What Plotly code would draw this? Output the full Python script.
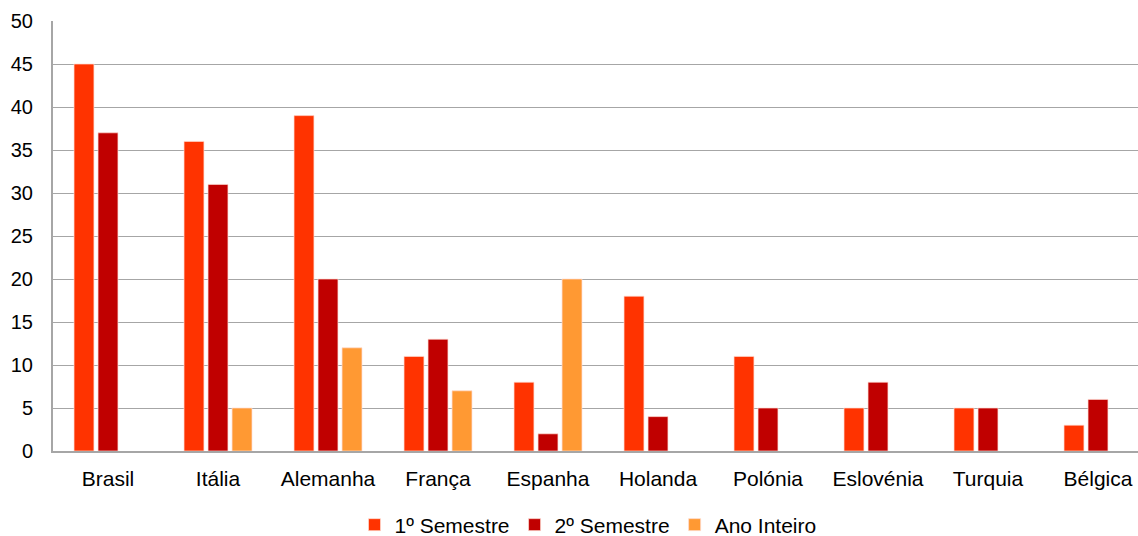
import plotly.graph_objects as go

# Countries and counts per semester
paises = ["Brasil", "Itália", "Alemanha", "França", "Espanha",
          "Holanda", "Polónia", "Eslovénia", "Turquia", "Bélgica"]
semestre_1 = [45, 36, 39, 11, 8, 18, 11, 5, 5, 3]
semestre_2 = [37, 31, 20, 13, 2, 4, 5, 8, 5, 6]
ano_inteiro = [None, 5, 12, 7, 20, None, None, None, None, None]
y_ticks = [0, 5, 10, 15, 20, 25, 30, 35, 40, 45, 50]

series = [
    ("1º Semestre", semestre_1, "#FF3300"),
    ("2º Semestre", semestre_2, "#C00000"),
    ("Ano Inteiro", ano_inteiro, "#FF9933"),
]

fig = go.Figure()
for nome, valores, cor in series:
    fig.add_trace(go.Bar(
        x=list(range(len(paises))), y=valores, name=nome,
        marker=dict(color=cor, line=dict(color="rgba(255,220,210,0.7)", width=1)),
    ))

font_family = "Liberation Sans, Arial, sans-serif"
plot_left, plot_w = 53, 1138 - 53
cat_px = 110  # width of one category slot in pixels

fig.update_layout(
    width=1138, height=536,
    margin=dict(l=53, r=0, t=21, b=85),
    paper_bgcolor="white", plot_bgcolor="white",
    barmode="group", bargap=0.345, bargroupgap=0.17,
    font=dict(family=font_family, size=21, color="#000000"),
    showlegend=True,
    legend=dict(
        orientation="h", xref="paper", x=(588 - plot_left) / plot_w, xanchor="center",
        yref="container", y=(536 - 525) / 536, yanchor="middle",
        font=dict(family=font_family, size=21, color="#000000"),
        itemwidth=30, traceorder="normal",
    ),
    xaxis=dict(
        tickmode="array", tickvals=list(range(len(paises))), ticktext=paises,
        range=[-0.5, -0.5 + plot_w / cat_px],
        showgrid=False, showline=True, linecolor="#A6A6A6", linewidth=2,
        ticks="", ticklabelstandoff=8, zeroline=False,
        tickfont=dict(size=21),
    ),
    yaxis=dict(
        range=[0, 50], tickmode="array", tickvals=y_ticks,
        showgrid=True, gridcolor="#A6A6A6", gridwidth=1,
        showline=True, linecolor="#A6A6A6", linewidth=2,
        ticks="", ticklabelstandoff=14, zeroline=False,
        tickfont=dict(size=20),
    ),
)

fig.write_html("out.html")
